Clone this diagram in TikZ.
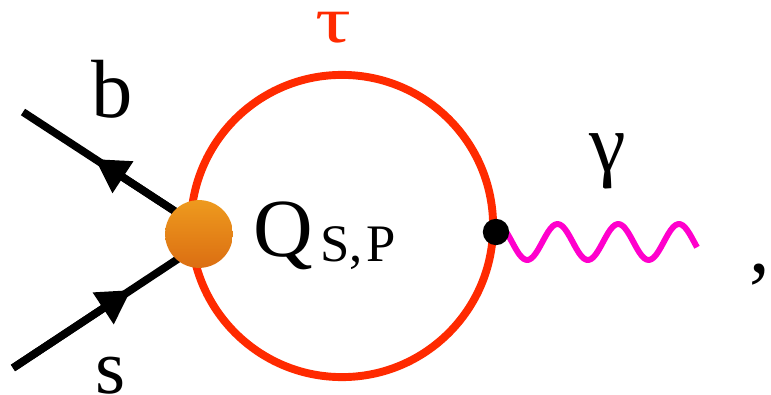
\documentclass[tikz,border=0pt]{standalone}
\usepackage{fontspec}
\setmainfont{Liberation Serif}
\usepackage{graphicx}
\usepackage{tikz}
\usetikzlibrary{arrows.meta}
\definecolor{tauRed}{HTML}{FF2A00}
\definecolor{photonPink}{HTML}{FF00CC}
\definecolor{blobTop}{HTML}{EE9A1E}
\definecolor{blobBot}{HTML}{DB6E12}
\tikzset{
  lbl/.style={anchor=base,inner sep=0pt,font=\fontsize{47}{50}\selectfont},
  quark/.style={line width=4.4pt},
  quarkhead/.style={-{Triangle[length=19pt,width=20.5pt]},line width=4.4pt},
  photon/.style={photonPink,line width=3.4pt},
}
\begin{document}
\begin{tikzpicture}[x=0.02cm,y=-0.02cm,line join=round]
    \useasboundingbox (0,0) rectangle (771,395);
    % hidden ends of the quark lines, under the blob
    \coordinate (bIn) at (199,227);
    \coordinate (sIn) at (199,245);
    \coordinate (bEnd) at (23,112);
    \coordinate (sEnd) at (13,368);
    \coordinate (bTip) at (95,159);
    \coordinate (sTip) at (131,290);
    % tau loop
    \node[circle,draw=tauRed,line width=4.5pt,minimum size=172pt,inner sep=0pt] (loop) at (342,226) {};
    % incoming and outgoing quarks
    \draw[quark] (bIn) -- (bEnd);
    \draw[quarkhead] (bIn) -- (bTip);
    \draw[quark] (sIn) -- (sEnd);
    \draw[quarkhead] (sEnd) -- (sTip);
    % operator vertex and photon vertex
    \node[circle,top color=blobTop,bottom color=blobBot,minimum size=38.6pt,inner sep=0pt] (blob) at (199,234) {};
    \coordinate (dotPos) at (496,232);
    \draw[photon] (dotPos) -- plot[domain=507:697,samples=80] (\x,{242+18*sin(5.93*(\x-512))});
    \node[circle,fill=black,minimum size=15pt,inner sep=0pt] (dot) at (dotPos) {};
    % labels
    \node[lbl] (bLabel) at (112,118) {b};
    \node[lbl,font=\fontsize{44}{48}\selectfont] (sLabel) at (111,393) {s};
    \node[lbl,text=tauRed] (tauLabel) at (333,43) {\scalebox{1.08}[0.8]{τ}};
    \node[lbl] (gammaLabel) at (608,172) {γ};
    \node[lbl,anchor=base west] (opLabel) at (253,256) {Q\kern4pt\lower3.3pt\hbox{\fontsize{30}{32}\selectfont S,\kern2.3pt P}};
    \node[lbl] (commaLabel) at (760,272) {,};
\end{tikzpicture}
\end{document}
